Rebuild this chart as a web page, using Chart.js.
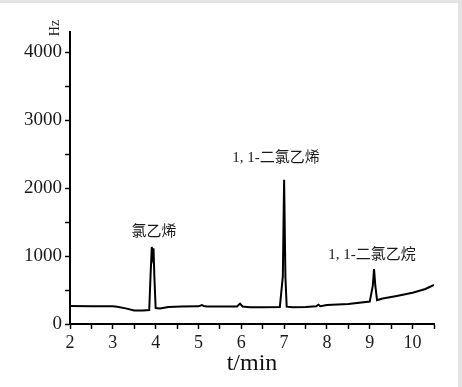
<!DOCTYPE html>
<html>
<head>
<meta charset="utf-8">
<script src="https://cdn.jsdelivr.net/npm/chart.js@4.4.0/dist/chart.umd.min.js"></script>
<style>
  html, body { margin: 0; padding: 0; background: #e4e4e4; width: 462px; height: 387px; overflow: hidden; }
  #wrap { position: absolute; left: 0; top: 3px; width: 458px; height: 384px; background: #fff; }
  canvas { display: block; }
</style>
</head>
<body>
<div id="wrap"><canvas id="c" width="458" height="384"></canvas></div>
<script>
// Retention time (min)
const times = [2.0, 2.5, 3.0, 3.1, 3.3, 3.5, 3.7, 3.85, 3.88, 3.91, 3.93, 3.95, 3.97, 4.0, 4.1, 4.3, 4.6, 5.0, 5.08, 5.12, 5.2, 5.5, 5.9, 5.97, 6.03, 6.2, 6.5, 6.9, 6.97, 7.0, 7.03, 7.06, 7.2, 7.5, 7.75, 7.8, 7.85, 8.0, 8.5, 9.0, 9.07, 9.1, 9.13, 9.17, 9.3, 9.6, 10.0, 10.3, 10.5];
// Detector signal (Hz)
const signal = [265, 262, 260, 255, 230, 200, 198, 205, 700, 1135, 1010, 1115, 700, 235, 228, 250, 258, 260, 280, 266, 258, 256, 258, 300, 258, 248, 248, 250, 700, 2125, 700, 255, 248, 250, 262, 285, 262, 280, 295, 330, 560, 810, 560, 350, 375, 410, 460, 515, 575];
// Peak labels
const peakNames = ["氯乙烯", "1, 1-二氯乙烯", "1, 1-二氯乙烷"];
const peakLabelX = [3.96, 6.81, 9.05];
const peakLabelY = [1357, 2441, 1015];
// Axis ticks (major ticks carry labels, minor ticks are unlabeled)
const xTickValues = [2, 2.5, 3, 3.5, 4, 4.5, 5, 5.5, 6, 6.5, 7, 7.5, 8, 8.5, 9, 9.5, 10, 10.5];
const xTickLabels = [2, 3, 4, 5, 6, 7, 8, 9, 10];
const yTickValues = [0, 500, 1000, 1500, 2000, 2500, 3000, 3500, 4000];
const yTickLabels = [0, 1000, 2000, 3000, 4000];

const pts = times.map((t, i) => ({ x: t, y: signal[i] }));

function pickLabel(list) {
  return function (v) {
    return list.some(l => Math.abs(l - v) < 1e-6) ? String(Math.round(v)) : '';
  };
}

const labelPlugin = {
  id: 'labels',
  afterDraw(chart) {
    const ctx = chart.ctx;
    const xs = chart.scales.x, ys = chart.scales.y;
    ctx.save();
    ctx.fillStyle = '#1a1a1a';
    ctx.textAlign = 'center';
    ctx.textBaseline = 'middle';
    ctx.font = "15px 'Liberation Serif', 'Noto Sans CJK SC'";
    peakNames.forEach((n, i) => {
      ctx.fillText(n, xs.getPixelForValue(peakLabelX[i]), ys.getPixelForValue(peakLabelY[i]));
    });
    // unit label
    ctx.translate(chart.chartArea.left - 15, chart.chartArea.top - 4);
    ctx.rotate(-Math.PI / 2);
    ctx.font = "14px 'Liberation Serif'";
    ctx.fillText('Hz', 0, 0);
    ctx.restore();
  }
};

new Chart(document.getElementById('c'), {
  type: 'line',
  data: {
    datasets: [{
      data: pts,
      borderColor: '#000',
      borderWidth: 2,
      pointRadius: 0,
      tension: 0,
      fill: false
    }]
  },
  options: {
    responsive: false,
    animation: false,
    layout: { padding: { top: 29, right: 24, left: 0, bottom: 0 } },
    plugins: { legend: { display: false }, tooltip: { enabled: false } },
    scales: {
      x: {
        type: 'linear',
        min: 2, max: 10.5,
        border: { display: true, color: '#000', width: 2 },
        grid: { drawOnChartArea: false, tickLength: 5, tickColor: '#000', tickWidth: 1.5 },
        afterBuildTicks: s => { s.ticks = xTickValues.map(v => ({ value: v })); },
        ticks: {
          autoSkip: false, maxRotation: 0,
          color: '#1a1a1a', padding: 3,
          font: { family: "'Liberation Serif'", size: 18 },
          callback: pickLabel(xTickLabels)
        },
        title: {
          display: true, text: 't/min', color: '#111',
          font: { family: "'Liberation Serif'", size: 24 },
          padding: { top: 0, bottom: 9 }
        },
        afterFit: s => { s.height = 63; }
      },
      y: {
        type: 'linear',
        min: 0, max: 4300,
        border: { display: true, color: '#000', width: 2 },
        grid: { drawOnChartArea: false, tickLength: 5, tickColor: '#000', tickWidth: 1.5 },
        afterBuildTicks: s => { s.ticks = yTickValues.map(v => ({ value: v })); },
        ticks: {
          autoSkip: false,
          color: '#1a1a1a', padding: 3,
          font: { family: "'Liberation Serif'", size: 19 },
          callback: pickLabel(yTickLabels)
        },
        afterFit: s => { s.width = 70; }
      }
    }
  },
  plugins: [labelPlugin]
});
</script>
</body>
</html>
